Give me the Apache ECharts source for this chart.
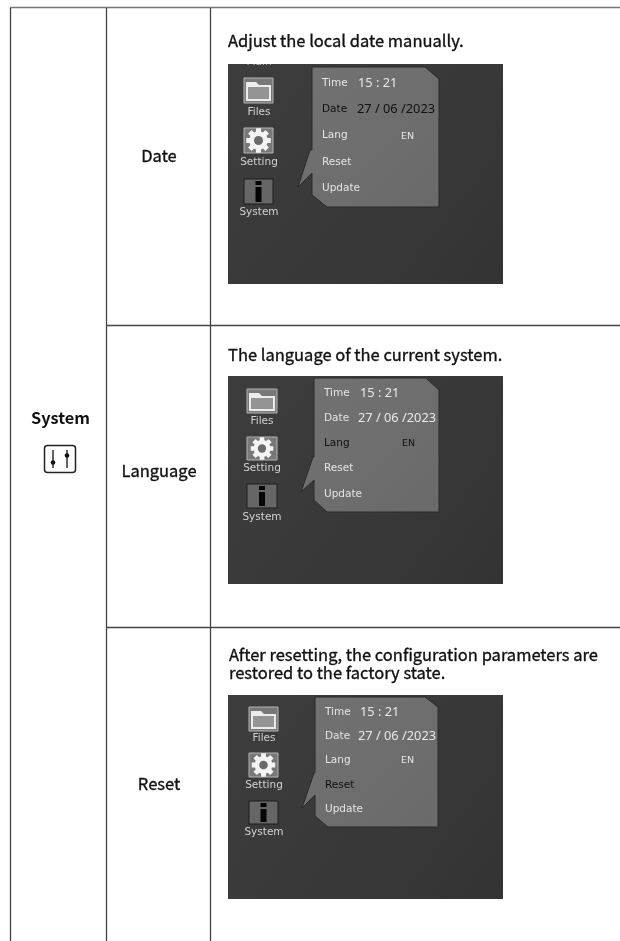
<!DOCTYPE html>
<html><head><meta charset="utf-8">
<style>html,body{margin:0;padding:0;background:#fff}#c{width:620px;height:941px}</style>
<script src="https://cdn.jsdelivr.net/npm/echarts@6/dist/echarts.min.js"></script>
</head><body><div id="c"></div>
<script>
const rowLabels = ['Date', 'Language', 'Reset'];
const sectionLabel = 'System';
const descriptions = [
  ['Adjust the local date manually.'],
  ['The language of the current system.'],
  ['After resetting, the configuration parameters are', 'restored to the factory state.']
];
const sideIcons = ['Files', 'Setting', 'System'];
const menuItems = ['Time', 'Date', 'Lang', 'Reset', 'Update'];
const timeValue = '15 : 21';
const dateValue = '27 / 06 /2023';
const langValue = 'EN';
const selectedItem = ['Date', 'Lang', 'Reset'];

const FONT = '"Noto Sans CJK SC","Noto Sans",sans-serif';
const UI = '"DejaVu Sans","Noto Sans",sans-serif';
const NUM = '"Noto Sans","Open Sans",sans-serif';
const layouts = [
  {img:[228,64,503,284], pop:[312,67,439,207,425,79,195,327], ptr:[310,150,298,187,312,173],
   iconX:[244,273], iconY:[[78,103],[128,153],[179,204]], labX:259, labY:[112,162,212],
   textX:322, textY:[83,109,135,162,188], valX:358, dateX:357, enX:401, enY:137, descX:228, descY:[41]},
  {img:[228,376,503,584], pop:[314,378,439,512,426,390,500,327], ptr:[313,457,301,492,314,480],
   iconX:[247,277], iconY:[[389,413],[437,460],[484,508]], labX:262, labY:[421,468,517],
   textX:324, textY:[393,418,443,468,494], valX:360, dateX:358, enX:402, enY:444, descX:228, descY:[355]},
  {img:[228,695,503,899], pop:[315,697,438,827,425,707,816,328], ptr:[314,773,302,808,315,795],
   iconX:[249,278], iconY:[[707,731],[753,777],[801,824]], labX:264, labY:[738,785,832],
   textX:325, textY:[712,736,760,785,809.5], valX:360, dateX:358, enX:401, enY:761, descX:229, descY:[655,673]}
];
const rowCenters = [156, 471, 784];
const lineColor = '#444';
const els = [];
function line(x1,y1,x2,y2,w,c){els.push({type:'line',shape:{x1,y1,x2,y2},style:{stroke:c||lineColor,lineWidth:w||1}});}
function text(t,x,y,size,fill,opt){
  els.push({type:'text',x,y,z:10,style:Object.assign({text:t,fill,font:'400 '+size+'px '+FONT,textAlign:'left',textVerticalAlign:'middle'},opt||{})});
}
function rect(x,y,w,h,fill,z,stroke){els.push({type:'rect',z:z||1,shape:{x,y,width:w,height:h},style:{fill,stroke:stroke||null,lineWidth:1}});}
function poly(points,fill,z,stroke){els.push({type:'polygon',z:z||2,shape:{points},style:{fill,stroke:stroke||null,lineWidth:1}});}
const medium={stroke:'#111',lineWidth:0.35};
function soft(fill){return {shadowColor:fill,shadowBlur:1.5};}

// table rules
line(10,7.5,620,7.5,1.6,'#777');
line(10.5,8,10.5,941,1.3);
line(106.5,8,106.5,941,1.3);
line(210.5,8,210.5,941,1.3);
line(106,325.5,620,325.5,1.3);
line(106,627.5,620,627.5,1.3);

// left column
text(sectionLabel,60.5,418,16.3,'#111',{textAlign:'center',font:'700 16.3px '+FONT});
els.push({type:'rect',shape:{x:44.5,y:445.5,width:31,height:27,r:3},style:{fill:'none',stroke:'#222',lineWidth:1.5}});
line(53,450,53,468,1.4,'#222'); line(67,450,67,468,1.4,'#222');
els.push({type:'circle',shape:{cx:53,cy:462.5,r:2.3},style:{fill:'#111'}});
els.push({type:'circle',shape:{cx:67,cy:455.5,r:2.3},style:{fill:'#111'}});

rowLabels.forEach((t,i)=>text(t,159,rowCenters[i],16.5,'#111',Object.assign({textAlign:'center',font:'400 16.5px '+FONT},medium)));

function gear(cx,cy,r){
  const n=8, pts=[];
  for(let i=0;i<n;i++){
    const a=i*2*Math.PI/n;
    [[-0.2,1],[0.2,1],[0.28,0.74],[0.505,0.74]].forEach(([d,m])=>{
      const b=a+d; pts.push([cx+Math.sin(b)*r*m,cy-Math.cos(b)*r*m]);
    });
  }
  poly(pts,'#f4f4f4',5);
  els.push({type:'circle',z:6,shape:{cx,cy,r:r*0.36},style:{fill:'#6a6a6a'}});
}

layouts.forEach((L,i)=>{
  descriptions[i].forEach((d,k)=>text(d,L.descX,L.descY[k],16.5,'#111',Object.assign({font:'400 16.5px '+FONT},medium)));
  const [x0,y0,x1,y1]=L.img;
  els.push({type:'rect',z:1,shape:{x:x0,y:y0,width:x1-x0,height:y1-y0},
    style:{fill:new echarts.graphic.LinearGradient(0,0,1,1,[{offset:0,color:'#3d3d3d'},{offset:0.6,color:'#383838'},{offset:1,color:'#333'}])}});
  const [a,b,c,d,e,f,g,h]=L.pop, [p1,p2,p3,p4,p5,p6]=L.ptr;
  const popFill=new echarts.graphic.LinearGradient(0,0,1,1,[{offset:0,color:'#727272'},{offset:1,color:'#6a6a6a'}]);
  poly([[a,b],[e,b],[c,f],[c,d],[h,d],[a,g],[a,p6],[p5,p6],[p3,p4],[p1,p2],[a,p2]],popFill,3,'#2a2a2a');
  const [ix0,ix1]=L.iconX, w=ix1-ix0;
  sideIcons.forEach((name,k)=>{
    const [iy0,iy1]=L.iconY[k], ih=iy1-iy0;
    rect(ix0,iy0,w,ih,k===2?'#666':'#787878',4,k===2?'#1c1c1c':'#b4b4b4');
    if(k===0){
      poly([[ix0+2,iy0+4],[ix0+12,iy0+4],[ix0+15,iy0+7],[ix1-2,iy0+7],[ix1-2,iy1-2],[ix0+2,iy1-2]],'#ececec',5);
      poly([[ix0+4,iy0+9],[ix1-4,iy0+9],[ix1-4,iy1-4],[ix0+4,iy1-4]],'#949494',6);
    }
    if(k===1) gear(ix0+w/2,iy0+ih/2,ih*0.5);
    if(k===2){
      rect(ix0+w/2-3,iy0+2,6,4,'#050505',5);
      rect(ix0+w/2-3,iy0+8,6,ih-10,'#050505',5);
    }
    text(name,L.labX,L.labY[k],10,'#d2d2d2',Object.assign({textAlign:'center',font:'400 10.5px '+UI},soft('#8a8a8a')));
  });
  menuItems.forEach((m,k)=>{
    const sel=m===selectedItem[i];
    const col=sel?'#111':'#e4e4e4';
    text(m,L.textX,L.textY[k],10,col,Object.assign({font:'400 10.5px '+UI},soft(sel?'#444':'#999')));
  });
  const dateSel=selectedItem[i]==='Date', langSel=selectedItem[i]==='Lang';
  text(timeValue,L.valX,L.textY[0],12.8,'#e8e8e8',Object.assign({font:'400 12.8px '+NUM},soft('#999')));
  text(dateValue,L.dateX,L.textY[1],12.8,dateSel?'#111':'#e8e8e8',Object.assign({font:'400 12.8px '+NUM},soft(dateSel?'#444':'#999')));
  text(langValue,L.enX,L.enY,9.5,langSel?'#111':'#e4e4e4',Object.assign({font:'400 9.5px '+UI},soft(langSel?'#444':'#999')));
});

// clipped "Main" caption at top of first screen
text('Main',259,62,10,'#bdbdbd',{textAlign:'center',font:'400 10.5px '+UI});
els[els.length-1].z=3;
rect(228,52,60,12,'#fff',11);

const chart=echarts.init(document.getElementById('c'),null,{renderer:'canvas'});
chart.setOption({animation:false,backgroundColor:'#fff',graphic:{elements:els}});
</script></body></html>
